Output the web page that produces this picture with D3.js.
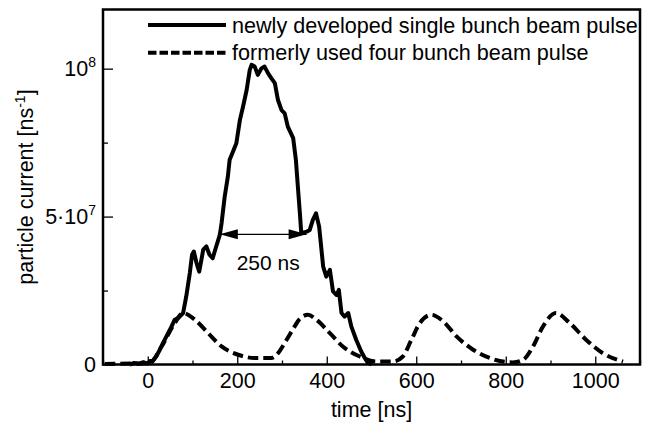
<!DOCTYPE html>
<html>
<head>
<meta charset="utf-8">
<script src="https://cdn.jsdelivr.net/npm/d3@7"></script>
<style>
body { margin:0; background:#fff; }
text { font-family: "Liberation Sans", Arial, Helvetica, sans-serif; fill:#000; }
</style>
</head>
<body>
<svg id="svg"></svg>
<script>
var Marge = {top:9.5, right:7, bottom:65.5, left:103};
var W = 647, H = 430;
var width = W - Marge.left - Marge.right, height = H - Marge.top - Marge.bottom;

// single bunch pulse: time [ns], current [1e7 ns^-1]
var singleTime = [-40,-30,-20,-10,0,5,10,19,27,34,53,60,68,79,86,94,99,103,109,115,124,131,138,145,153,161,165,172,179,183,189,198,206,213,221,228,232,239,246,254,261,269,276,284,291,299,306,313,325,331,336,340,343,355,362,369,376,383,392,399,407,414,422,427,433,440,448,455,466,477,485,492,500];
var singleVal  = [0,0.05,0.02,0.08,0.03,0.12,0.1,0.27,0.5,0.72,1.28,1.51,1.57,1.74,2.3,3.09,3.71,3.82,3.43,3.14,3.88,3.99,3.71,3.59,3.99,4.38,4.78,5.68,6.35,6.92,7.14,7.48,8.27,8.72,9.28,9.96,10.13,10.07,9.79,10.01,10.07,9.84,9.68,9.51,8.94,8.6,8.49,8.04,7.65,6.92,5.9,5.11,4.44,4.49,4.55,4.89,5.11,4.66,3.31,2.97,3.2,2.47,2.35,2.52,1.74,1.62,1.74,1.28,0.83,0.44,0.22,0.05,0];

// four bunch pulse
var fourTime = [-96,-40,4,31,60,79,105,135,165,202,239,276,288,310,328,340,358,377,407,436,474,511,548,570,589,608,634,660,690,727,772,816,839,861,883,912,943,980,1017,1062];
var fourVal  = [0.02,0.03,0.05,0.61,1.39,1.74,1.52,1.06,0.61,0.33,0.22,0.22,0.33,0.83,1.28,1.55,1.68,1.51,1.06,0.61,0.27,0.1,0.1,0.27,0.83,1.4,1.68,1.46,0.95,0.5,0.18,0.07,0.16,0.61,1.28,1.74,1.4,0.83,0.38,0.1];

var xMajor = [0,200,400,600,800,1000];
var xMinor = [100,300,500,700,900,1100,-100];
var yMajor = [0,5,10];
var yMinor = [2.5,7.5];

var legendLabels = ["newly developed single bunch beam pulse","formerly used four bunch beam pulse"];
var fwhm = {from:161, to:355, level:4.4, label:"250 ns"};

var svg = d3.select("#svg").attr("width",W).attr("height",H);
var g = svg.append("g").attr("transform","translate("+Marge.left+","+Marge.top+")");

var x_scale = d3.scaleLinear().domain([-100,1100]).range([0,width]);
var y_scale = d3.scaleLinear().domain([0,12]).range([height,0]);

// ticks (inward)
var xAxisMaj = d3.axisBottom(x_scale).tickValues(xMajor).tickSize(-8).tickPadding(4).tickFormat(d3.format("d"));
var xAxisMin = d3.axisBottom(x_scale).tickValues(xMinor).tickSize(-4).tickFormat("");
var gx = g.append("g").attr("transform","translate(0,"+height+")").call(xAxisMaj);
g.append("g").attr("transform","translate(0,"+height+")").call(xAxisMin);
gx.selectAll("text").attr("font-size",21.5).attr("dy","0.93em");

var yAxisMaj = d3.axisLeft(y_scale).tickValues(yMajor).tickSize(-10).tickFormat("");
var yAxisMin = d3.axisLeft(y_scale).tickValues(yMinor).tickSize(-5).tickFormat("");
g.append("g").call(yAxisMaj);
g.append("g").call(yAxisMin);
g.selectAll(".domain").remove();
g.selectAll(".tick line").attr("stroke","#000").attr("stroke-width",1.3);

// y tick labels with superscripts
var yLab = [["0",""],["5·10","7"],["10","8"]];
yMajor.forEach(function(v,i){
  var t = g.append("text").attr("x",-7).attr("y",y_scale(v)+7)
    .attr("text-anchor","end").attr("font-size",21.5);
  t.append("tspan").text(yLab[i][0]);
  if (yLab[i][1]) t.append("tspan").attr("font-size",14).attr("dy",-9).text(yLab[i][1]);
});

// lines
var line = d3.line().x(function(d){return x_scale(d[0]);}).y(function(d){return y_scale(d[1]);});
g.append("path").attr("d", line.curve(d3.curveMonotoneX)(d3.zip(fourTime,fourVal)))
  .attr("fill","none").attr("stroke","#000").attr("stroke-width",4).attr("stroke-dasharray","10.5,5");
g.append("path").attr("d", line.curve(d3.curveLinear)(d3.zip(singleTime,singleVal)))
  .attr("fill","none").attr("stroke","#000").attr("stroke-width",4).attr("stroke-linejoin","round");

// frame
g.append("rect").attr("x",0).attr("y",0).attr("width",width).attr("height",height)
  .attr("fill","none").attr("stroke","#000").attr("stroke-width",2.5);

// FWHM arrow
var ax1 = x_scale(fwhm.from), ax2 = x_scale(fwhm.to), ay = y_scale(fwhm.level);
g.append("line").attr("x1",ax1).attr("x2",ax2).attr("y1",ay).attr("y2",ay).attr("stroke","#000").attr("stroke-width",1.2);
g.append("path").attr("d","M"+ax1+","+ay+"l18,-5l0,10z");
g.append("path").attr("d","M"+ax2+","+ay+"l-18,-5l0,10z");
g.append("text").attr("x",(ax1+ax2)/2+5).attr("y",ay+36).attr("text-anchor","middle").attr("font-size",21).text(fwhm.label);

// legend
legendLabels.forEach(function(s,i){
  var ly = 15.5 + i*27.7;
  g.append("line").attr("x1",45).attr("x2",123).attr("y1",ly).attr("y2",ly)
    .attr("stroke","#000").attr("stroke-width",4).attr("stroke-dasharray", i ? "8.5,3" : null);
  g.append("text").attr("x",129).attr("y",ly+7.5).attr("font-size",21.6).text(s);
});

// axis titles
svg.append("text").attr("x",Marge.left+width/2).attr("y",417).attr("text-anchor","middle").attr("font-size",21.5).text("time [ns]");
var yt = svg.append("text").attr("transform","translate(33,"+(Marge.top+height/2)+") rotate(-90)")
  .attr("text-anchor","middle").attr("font-size",21.5);
yt.append("tspan").text("particle current [ns");
yt.append("tspan").attr("font-size",14).attr("dy",-8).text("-1");
yt.append("tspan").attr("dy",8).text("]");
</script>
</body>
</html>
